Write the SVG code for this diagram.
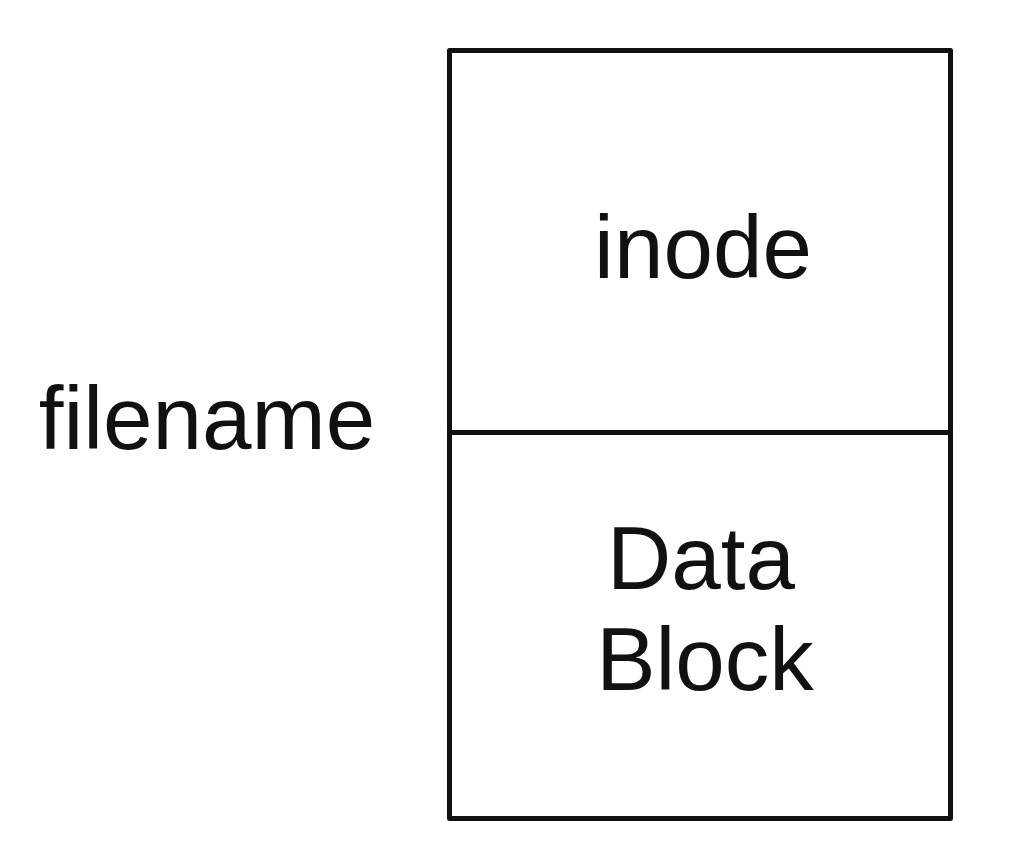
<svg xmlns="http://www.w3.org/2000/svg" width="1020" height="866" viewBox="0 0 1020 866">
<style>
.box{fill:none;stroke:#111;stroke-width:5;stroke-linejoin:round}
.t{font-family:"Liberation Sans",Arial,sans-serif;font-size:89px;fill:#111;text-anchor:middle}
</style>
<rect width="1020" height="866" fill="#fff"/>
<g id="filename"><text class="t" x="207" y="449">filename</text></g>
<g id="inode"><rect class="box" x="449.5" y="50.5" width="501" height="382"/><text class="t" x="703" y="278">inode</text></g>
<g id="datablock"><rect class="box" x="449.5" y="432.5" width="501" height="386"/><text class="t" x="701" y="589">Data</text><text class="t" x="705" y="690">Block</text></g>
<g id="connectors"></g>
</svg>
